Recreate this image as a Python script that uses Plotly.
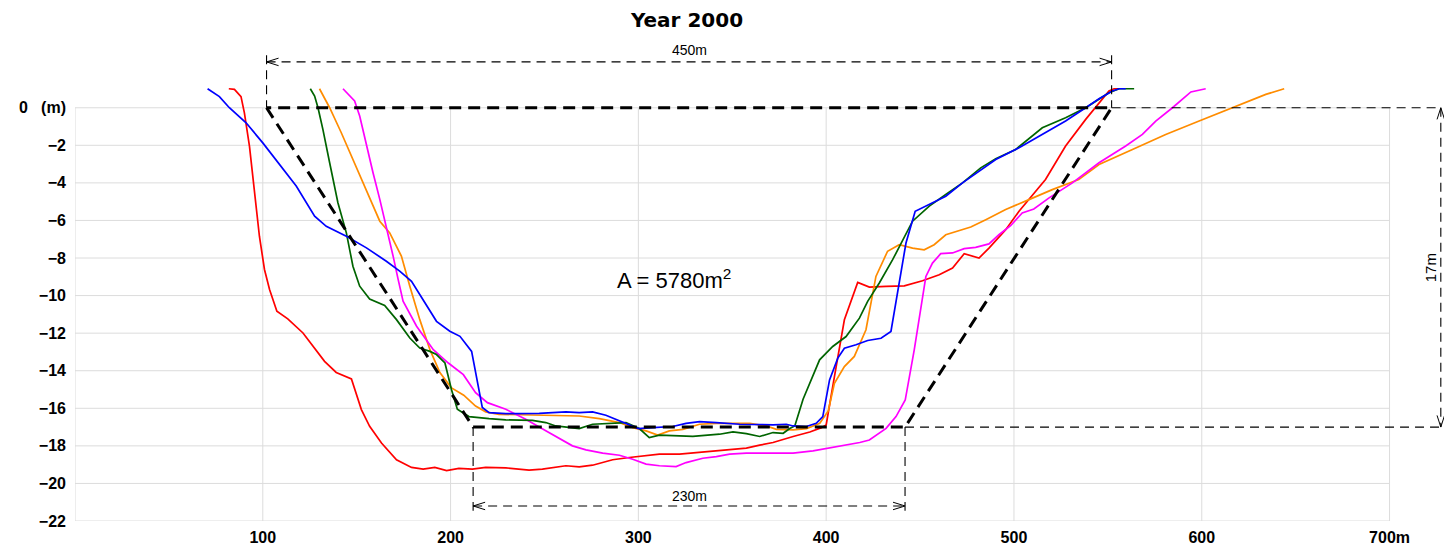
import plotly.graph_objects as go

# ---------------- data ----------------
red_x = [81.9, 84.9, 88.4, 90.2, 92.9, 95.6, 98.2, 100.9, 103.6, 107.5, 113.3, 121.4, 132.9, 139.1, 147.2, 152.5,
         156.9, 163.2, 171.2, 179.2, 185.4, 191.6, 197.9, 204.4, 211.6, 218.7, 229.4, 241.8, 248.9, 261.4, 268.5,
         275.6, 286.3, 295.2, 304.1, 311.2, 321.9, 336.1, 345.0, 357.5, 364.6, 371.7, 382.4, 391.3, 397.5, 400.0,
         404.4, 409.7, 416.8, 423.0, 431.9, 441.6, 451.3, 460.2, 467.3, 473.5, 481.4, 486.7, 495.6, 502.7, 516.8,
         527.5, 538.2, 545.3, 550.6, 553.3, 556.0]
red_y = [1.01, 0.98, 0.59, -0.27, -2.04, -4.35, -6.84, -8.61, -9.68, -10.83, -11.24, -11.99, -13.5, -14.09, -14.44,
         -16.07, -16.96, -17.85, -18.74, -19.15, -19.24, -19.15, -19.32, -19.2, -19.24, -19.15, -19.17, -19.29,
         -19.24, -19.06, -19.12, -19.03, -18.74, -18.62, -18.5, -18.44, -18.44, -18.32, -18.23, -18.12, -17.96,
         -17.82, -17.5, -17.26, -17.03, -16.89, -14.31, -11.29, -9.3, -9.55, -9.51, -9.48, -9.21, -8.89, -8.53,
         -7.77, -8.0, -7.47, -6.49, -5.51, -3.82, -2.04, -0.62, 0.27, 0.89, 1.01, 1.01]

blue_x = [70.6, 76.9, 82.2, 91.1, 100.0, 108.9, 117.8, 127.6, 133.8, 144.5, 155.2, 165.8, 172.9, 179.2, 185.4, 192.5,
          199.6, 205.0, 211.2, 216.9, 220.5, 229.4, 247.2, 261.4, 268.5, 275.6, 282.7, 289.9, 295.2, 300.0, 307.7,
          318.3, 325.4, 332.6, 341.5, 353.9, 371.7, 378.8, 382.4, 389.5, 394.7, 398.2, 401.8, 406.2, 409.7, 415.9,
          422.1, 429.2, 434.5, 438.1, 442.5, 447.4, 454.9, 463.7, 472.6, 481.4, 490.3, 502.7, 515.1, 527.5, 538.2,
          545.3, 552.4, 556.0, 559.5]
blue_y = [1.01, 0.59, 0.0, -0.8, -1.87, -3.02, -4.17, -5.77, -6.31, -6.84, -7.46, -8.17, -8.7, -9.24, -10.21, -11.37,
          -11.9, -12.17, -12.97, -15.96, -16.23, -16.28, -16.27, -16.19, -16.23, -16.19, -16.37, -16.67, -16.85,
          -17.08, -17.03, -16.97, -16.8, -16.71, -16.76, -16.85, -16.88, -16.85, -16.94, -16.97, -16.8, -16.44,
          -14.49, -13.33, -12.8, -12.62, -12.39, -12.27, -11.91, -9.87, -7.2, -5.51, -5.16, -4.71, -4.0, -3.38,
          -2.76, -2.13, -1.42, -0.71, 0.0, 0.48, 0.89, 1.01, 1.01]

green_x = [125.3, 127.6, 129.4, 132.0, 135.6, 140.0, 144.5, 148.0, 151.6, 156.9, 164.9, 171.2, 178.3, 183.6, 189.0,
           192.5, 197.0, 200.5, 203.6, 209.8, 220.5, 229.4, 243.6, 250.7, 256.0, 265.0, 268.5, 275.6, 282.7, 293.4,
           300.5, 305.8, 311.2, 318.3, 329.0, 343.2, 350.4, 357.5, 364.6, 371.7, 377.1, 380.6, 383.3, 387.7, 392.2,
           396.5, 403.5, 410.6, 417.7, 422.1, 428.3, 435.4, 446.0, 454.9, 463.7, 472.6, 482.3, 490.3, 500.9, 515.1,
           527.5, 538.2, 550.6, 556.0, 564.0]
green_y = [1.01, 0.62, 0.0, -1.15, -2.93, -5.06, -6.66, -8.44, -9.5, -10.18, -10.53, -11.28, -12.26, -12.79, -12.97,
           -13.14, -13.59, -15.01, -16.05, -16.44, -16.55, -16.62, -16.64, -16.76, -16.94, -17.03, -17.08, -16.85,
           -16.81, -16.76, -17.08, -17.56, -17.43, -17.47, -17.5, -17.38, -17.26, -17.35, -17.5, -17.29, -17.33,
           -17.08, -16.94, -15.52, -14.46, -13.42, -12.71, -12.18, -11.2, -10.31, -9.33, -8.09, -6.04, -5.24, -4.62,
           -4.0, -3.2, -2.72, -2.22, -1.07, -0.53, 0.0, 0.8, 1.01, 1.01]

orange_x = [130.2, 135.6, 141.8, 148.0, 153.4, 157.8, 162.3, 167.6, 173.8, 178.3, 183.6, 189.0, 194.3, 200.3, 207.0,
            213.3, 218.7, 225.8, 238.3, 256.0, 268.5, 279.2, 289.9, 297.0, 304.1, 310.3, 316.5, 323.7, 332.6, 341.5,
            359.3, 368.1, 373.5, 382.4, 389.5, 396.6, 401.1, 404.4, 409.7, 415.0, 421.2, 426.5, 432.7, 438.9, 446.0,
            452.2, 457.5, 463.7, 471.7, 477.0, 485.0, 495.6, 508.0, 520.4, 534.5, 545.3, 563.1, 580.8, 598.6, 616.3,
            634.1, 643.9]
orange_y = [1.01, 0.0, -1.33, -2.75, -4.0, -5.06, -6.04, -6.66, -7.9, -9.5, -11.28, -12.88, -14.1, -14.9, -15.3,
            -15.88, -16.19, -16.32, -16.35, -16.37, -16.41, -16.55, -16.76, -17.03, -17.2, -17.43, -17.2, -17.12,
            -16.85, -16.8, -16.8, -16.94, -17.12, -17.15, -17.08, -16.8, -16.14, -14.67, -13.78, -13.24, -11.82,
            -8.98, -7.64, -7.29, -7.47, -7.56, -7.29, -6.76, -6.49, -6.35, -5.96, -5.42, -4.89, -4.36, -3.82, -3.02,
            -2.22, -1.42, -0.71, 0.0, 0.71, 1.01]

magenta_x = [142.7, 148.9, 151.6, 155.2, 158.7, 162.3, 165.8, 169.4, 172.1, 174.7, 181.9, 190.8, 198.8, 206.8, 213.3,
             219.6, 229.4, 240.0, 250.7, 257.8, 264.9, 272.1, 281.0, 289.9, 297.0, 304.1, 311.2, 320.1, 325.4, 334.3,
             341.5, 348.6, 357.5, 369.9, 382.4, 393.0, 403.7, 417.9, 423.0, 431.9, 437.2, 442.1, 446.9, 450.4, 453.1,
             456.6, 461.0, 467.3, 473.5, 479.6, 486.7, 492.0, 498.2, 504.4, 510.6, 518.7, 531.1, 545.3, 559.5, 568.4,
             575.5, 584.4, 594.2, 602.1]
magenta_y = [1.01, 0.36, -0.44, -2.04, -3.46, -4.88, -6.31, -7.9, -9.15, -10.3, -11.63, -12.88, -13.59, -14.21,
             -15.17, -15.7, -16.05, -16.58, -17.2, -17.61, -18.0, -18.21, -18.39, -18.5, -18.71, -18.97, -19.06,
             -19.1, -18.89, -18.66, -18.57, -18.44, -18.39, -18.39, -18.39, -18.27, -18.09, -17.82, -17.69, -17.07,
             -16.44, -15.56, -12.89, -10.76, -8.98, -8.27, -7.77, -7.73, -7.5, -7.43, -7.25, -6.76, -6.28, -5.6,
             -5.39, -4.8, -4.0, -2.93, -2.04, -1.42, -0.71, 0.0, 0.84, 1.01]

# design (trapezoid) profile
design_x = [102, 212, 442, 552, 102]
design_y = [0, -17, -17, 0, 0]

x_ticks = [100, 200, 300, 400, 500, 600, 700]
x_labels = ["100", "200", "300", "400", "500", "600", "700m"]
y_ticks = [0, -2, -4, -6, -8, -10, -12, -14, -16, -18, -20, -22]
y_labels = ["0\u00a0\u00a0\u00a0(m)", "\u22122", "\u22124", "\u22126", "\u22128", "\u221210", "\u221212",
            "\u221214", "\u221216", "\u221218", "\u221220", "\u221222"]

title_text = "Year 2000"
top_width_label = "450m"
bottom_width_label = "230m"
depth_label = "17m"
area_label = "A = 5780m<sup>2</sup>"

# ---------------- figure ----------------
FONT = "Liberation Sans, Arial, sans-serif"
TITLE_FONT = "DejaVu Sans, Liberation Sans, sans-serif"
X_MIN, X_MAX = 0, 700
Y_MIN, Y_MAX = -22, 0
GRID = "#dcdcdc"

fig = go.Figure()

series = [
    (red_x, red_y, "#ff0000"),
    (orange_x, orange_y, "#ff8c00"),
    (magenta_x, magenta_y, "#ff00ff"),
    (green_x, green_y, "#006400"),
    (blue_x, blue_y, "#0000ff"),
]
for xs, ys, c in series:
    fig.add_trace(go.Scatter(x=xs, y=ys, mode="lines", line=dict(color=c, width=1.7), hoverinfo="skip"))

fig.add_trace(go.Scatter(x=design_x, y=design_y, mode="lines",
                         line=dict(color="black", width=3, dash="12px,7px"), hoverinfo="skip"))

shapes = []
# gridlines (limited to the data box 0..700, -22..0)
for xv in [X_MIN] + x_ticks:
    shapes.append(dict(type="line", xref="x", yref="y", x0=xv, x1=xv, y0=Y_MIN, y1=Y_MAX,
                       line=dict(color=GRID, width=1), layer="below"))
for yv in y_ticks:
    shapes.append(dict(type="line", xref="x", yref="y", x0=X_MIN, x1=X_MAX, y0=yv, y1=yv,
                       line=dict(color=GRID, width=1), layer="below"))

thin = dict(color="black", width=1.1, dash="9px,6px")
solid_thin = dict(color="black", width=1)

top_l, top_r = design_x[0], design_x[3]
bot_l, bot_r = design_x[1], design_x[2]
depth = design_y[1]
dim_top_y = 2.44
dim_bot_y = -21.2
dim_right_x = 727.3

def line(x0, y0, x1, y1, style):
    shapes.append(dict(type="line", xref="x", yref="y", x0=x0, y0=y0, x1=x1, y1=y1, line=style))

# 450m dimension
line(top_l, 2.8, top_l, 0, thin)
line(top_r, 2.8, top_r, 0, thin)
line(top_l, dim_top_y, top_r, dim_top_y, thin)
# 230m dimension
line(bot_l, depth, bot_l, -21.45, thin)
line(bot_r, depth, bot_r, -21.45, thin)
line(bot_l, dim_bot_y, bot_r, dim_bot_y, thin)
# 17m dimension
line(top_r, 0, dim_right_x, 0, thin)
line(bot_r, depth, dim_right_x, depth, thin)
line(dim_right_x, 0, dim_right_x, depth, thin)

# arrowheads
ax_len, ax_half = 6.4, 0.2
ay_len, ay_half = 0.62, 2.0
for (xt, yt, d) in [(top_l, dim_top_y, 1), (top_r, dim_top_y, -1), (bot_l, dim_bot_y, 1), (bot_r, dim_bot_y, -1)]:
    line(xt, yt, xt + d * ax_len, yt + ax_half, solid_thin)
    line(xt, yt, xt + d * ax_len, yt - ax_half, solid_thin)
for (yt, d) in [(0, -1), (depth, 1)]:
    line(dim_right_x, yt, dim_right_x - ay_half, yt + d * ay_len, solid_thin)
    line(dim_right_x, yt, dim_right_x + ay_half, yt + d * ay_len, solid_thin)

annotations = [
    dict(x=(top_l + top_r) / 2, y=3.05, xref="x", yref="y", text=top_width_label, showarrow=False,
         font=dict(family=FONT, size=14, color="black")),
    dict(x=(bot_l + bot_r) / 2, y=-20.65, xref="x", yref="y", text=bottom_width_label, showarrow=False,
         font=dict(family=FONT, size=14, color="black")),
    dict(x=722.0, y=depth / 2, xref="x", yref="y", text=depth_label, showarrow=False, textangle=-90,
         font=dict(family=FONT, size=15, color="black")),
    dict(x=319, y=-9.1, xref="x", yref="y", text=area_label, showarrow=False,
         font=dict(family=FONT, size=22, color="black")),
]

fig.update_layout(
    width=1444, height=549,
    margin=dict(l=75, r=0, t=42, b=28),
    paper_bgcolor="white", plot_bgcolor="white",
    showlegend=False,
    title=dict(text=title_text, x=(687 - 75) / 1369, xref="paper", xanchor="center", y=1 - 20 / 549,
               yref="container", yanchor="middle",
               font=dict(family=TITLE_FONT, size=20, color="black", weight="bold")),
    shapes=shapes,
    annotations=annotations,
    xaxis=dict(range=[0, 729], showgrid=False, zeroline=False, showline=False, ticks="",
               tickvals=x_ticks, ticktext=x_labels, ticklabelstandoff=5,
               tickfont=dict(family=FONT, size=16, color="black", weight="bold")),
    yaxis=dict(range=[-22, 3.5], showgrid=False, zeroline=False, showline=False, ticks="",
               tickvals=y_ticks, ticktext=y_labels, ticklabelstandoff=8,
               tickfont=dict(family=FONT, size=16, color="black", weight="bold")),
)

# remove the default 8px page margin so the figure fills the 1444x549 window exactly
fig.write_html("out.html", config={"displayModeBar": False},
               post_script="document.body.style.margin='0';document.body.style.overflow='hidden';")
